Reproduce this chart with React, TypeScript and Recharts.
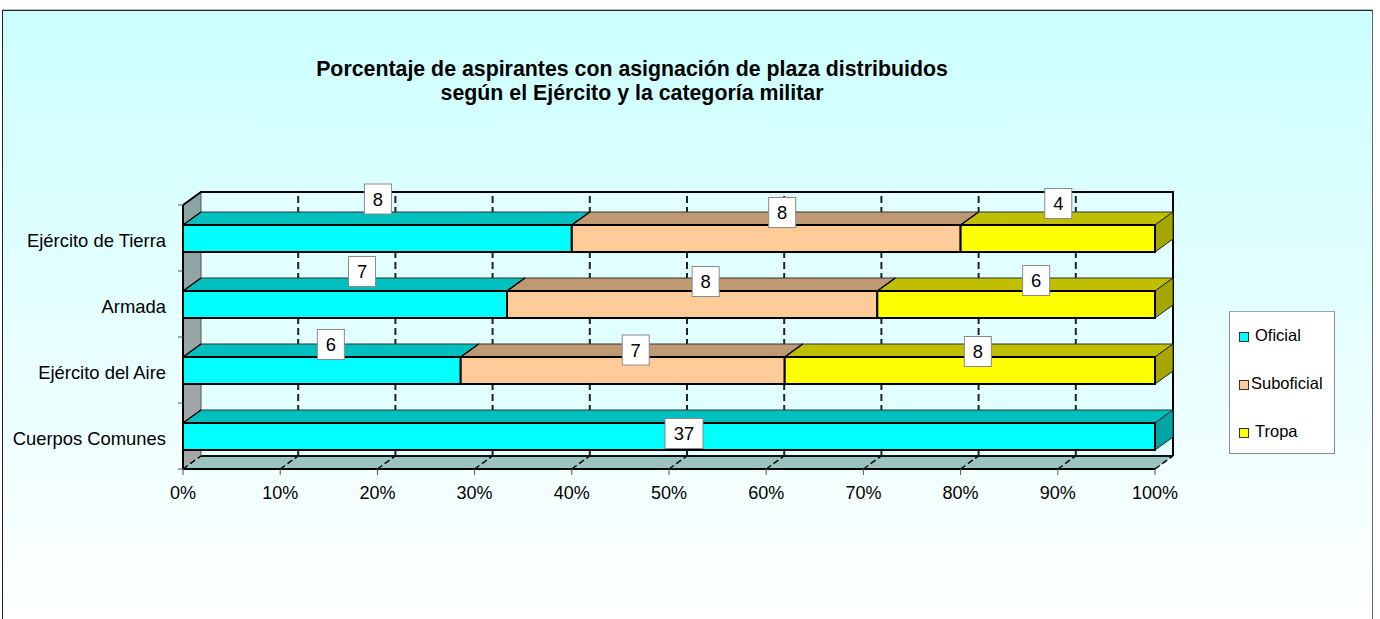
import { BarChart, Bar, XAxis, YAxis, Legend, LabelList, usePlotArea } from "recharts";

const categories = ["Ejército de Tierra", "Armada", "Ejército del Aire", "Cuerpos Comunes"];
const oficial = [8, 7, 6, 37];
const suboficial = [8, 8, 7, 0];
const tropa = [4, 6, 8, 0];
const percentTicks = [0, 0.1, 0.2, 0.3, 0.4, 0.5, 0.6, 0.7, 0.8, 0.9, 1];

const data = categories.map((name, i) => ({
  name,
  oficial: oficial[i],
  suboficial: suboficial[i],
  tropa: tropa[i],
}));

const FONT = '"Liberation Sans", Arial, sans-serif';
const DX = 18;
const DY = 13;
const PLOT_HEIGHT = 264;

// hand placed labels in the original, offset from the centre of each segment
const NUDGE_OFICIAL = [[0.5, -39.5], [17, -33], [9, -26], [15, -3]];
const NUDGE_SUBOFICIAL = [[16, -26], [13.5, -23], [13, -20.5], [0, 0]];
const NUDGE_TROPA = [[0.5, -35], [20, -24], [8, -19], [0, 0]];

const SHADES: Record<string, { top: string; side: string }> = {
  "#00FFFF": { top: "#00BFBF", side: "#00A6A6" },
  "#FFCC99": { top: "#BF9973", side: "#A68559" },
  "#FFFF00": { top: "#BFBF00", side: "#A6A600" },
};

function Walls() {
  const plot = usePlotArea();
  if (!plot) return null;
  const { x, y, width, height } = plot;
  const r = x + width;
  const b = y + height;
  return (
    <g>
      <defs>
        <linearGradient id="sideWall" x1="0" y1="0" x2="0" y2="1">
          <stop offset="0" stopColor="#8AA4A4" />
          <stop offset="1" stopColor="#A6A6A6" />
        </linearGradient>
      </defs>
      <text x={632} y={76} textAnchor="middle" fontFamily={FONT} fontWeight="bold" fontSize={21.33} fill="#000">
        Porcentaje de aspirantes con asignación de plaza distribuidos
      </text>
      <text x={632} y={100} textAnchor="middle" fontFamily={FONT} fontWeight="bold" fontSize={21.33} fill="#000">
        según el Ejército y la categoría militar
      </text>
      <rect x={x + DX} y={y - DY} width={width} height={height} fill="#E2FFFF" />
      <polygon
        points={`${x},${y} ${x + DX},${y - DY} ${x + DX},${b - DY} ${x},${b}`}
        fill="url(#sideWall)"
      />
      <polygon
        points={`${x},${b} ${x + DX},${b - DY} ${r + DX},${b - DY} ${r},${b}`}
        fill="#9BC4C0"
      />
      {percentTicks.slice(1, -1).map((t) => {
        const gx = x + width * t;
        return (
          <g key={t}>
            <line x1={gx + DX} y1={b - DY} x2={gx + DX} y2={y - DY} stroke="#222" strokeWidth={2} strokeDasharray="7 4" />
            <line x1={gx} y1={b} x2={gx + DX} y2={b - DY} stroke="#000" strokeWidth={1.5} strokeDasharray="6 3" />
          </g>
        );
      })}
      <line x1={x + DX} y1={b - DY} x2={r + DX} y2={b - DY} stroke="#111" strokeWidth={2} />
      <line x1={x + DX} y1={y - DY} x2={x + DX} y2={b - DY} stroke="#555" strokeWidth={1} />
      <line x1={x + DX - 1} y1={y - DY} x2={r + DX + 1} y2={y - DY} stroke="#000" strokeWidth={2} />
      <line x1={r + DX} y1={y - DY} x2={r + DX} y2={b - DY} stroke="#000" strokeWidth={2} />
      <line x1={x} y1={y} x2={x + DX} y2={y - DY} stroke="#000" strokeWidth={2} />
      <line x1={x} y1={y} x2={x} y2={b} stroke="#000" strokeWidth={2} />
      <line x1={x} y1={b} x2={r} y2={b} stroke="#000" strokeWidth={2} />
      <line x1={x} y1={b} x2={x + DX} y2={b - DY} stroke="#000" strokeWidth={1.5} strokeDasharray="6 3" />
      <line x1={r} y1={b} x2={r + DX} y2={b - DY} stroke="#000" strokeWidth={1.5} strokeDasharray="6 3" />
    </g>
  );
}

function PercentTick({ x, y, payload }: any) {
  return (
    <g>
      <line x1={x} y1={y} x2={x} y2={y + 6} stroke="#555" strokeWidth={1} />
      <text x={x} y={y + 30} textAnchor="middle" fontFamily={FONT} fontSize={18} fill="#000">
        {`${Math.round(payload.value * 100)}%`}
      </text>
    </g>
  );
}

function CategoryTick({ x, y, payload, index }: any) {
  const step = PLOT_HEIGHT / categories.length;
  return (
    <g>
      <line x1={x - 5} y1={y - step / 2} x2={x} y2={y - step / 2} stroke="#555" strokeWidth={1} />
      {index === categories.length - 1 && (
        <line x1={x - 5} y1={y + step / 2} x2={x} y2={y + step / 2} stroke="#555" strokeWidth={1} />
      )}
      <text x={x - 17} y={y + 8.5} textAnchor="end" fontFamily={FONT} fontSize={18.4} fill="#000">
        {payload.value}
      </text>
    </g>
  );
}

function Bar3D({ x, y, width, height, fill }: any) {
  if (!width || width <= 0) return null;
  const shade = SHADES[fill];
  const r = x + width;
  return (
    <g>
      <polygon
        points={`${x},${y} ${x + DX},${y - DY} ${r + DX},${y - DY} ${r},${y}`}
        fill={shade.top}
        stroke="#333"
        strokeWidth={1}
      />
      <polygon
        points={`${r},${y} ${r + DX},${y - DY} ${r + DX},${y + height - DY} ${r},${y + height}`}
        fill={shade.side}
        stroke="#222"
        strokeWidth={1}
      />
      <line x1={x} y1={y} x2={x + DX} y2={y - DY} stroke="#000" strokeWidth={1.5} />
      <rect x={x} y={y} width={width} height={height} fill={fill} stroke="#000" strokeWidth={2} />
    </g>
  );
}

function boxLabel(nudges: number[][]) {
  return ({ x, y, width, height, value, index }: any) => {
    if (!value) return null;
    const cx = x + width / 2 + nudges[index][0];
    const cy = y + height / 2 + nudges[index][1];
    const boxW = 27 + (String(value).length - 1) * 11;
    return (
      <g>
        <rect x={cx - boxW / 2} y={cy - 15} width={boxW} height={30} fill="#fff" stroke="#8a8a8a" strokeWidth={1} />
        <text x={cx} y={cy + 6.5} textAnchor="middle" fontFamily={FONT} fontSize={18.4} fill="#000">
          {value}
        </text>
      </g>
    );
  };
}

function LegendBox({ payload }: any) {
  return (
    <div
      style={{
        width: 106,
        height: 143,
        boxSizing: "border-box",
        background: "#fff",
        border: "1px solid #8a8a8a",
        borderTopColor: "#9aa",
        fontFamily: FONT,
        fontSize: 16.5,
        position: "relative",
      }}
    >
      {(payload || []).map((item: any, i: number) => (
        <div key={item.value}>
          <span
            style={{
              position: "absolute",
              left: 9,
              top: 19.5 + i * 48,
              width: 8,
              height: 8,
              background: item.color,
              border: "1px solid #333",
            }}
          />
          <span
            style={{
              position: "absolute",
              left: item.value === "Suboficial" ? 21 : 25,
              top: 14 + i * 48,
              lineHeight: "19px",
              color: "#000",
              whiteSpace: "nowrap",
            }}
          >
            {item.value}
          </span>
        </div>
      ))}
    </div>
  );
}

export default function App() {
  return (
    <div style={{ position: "absolute", left: 0, top: 0, width: 1380, height: 619, overflow: "hidden", background: "#fff" }}>
      <div
        style={{
          position: "absolute",
          left: 2,
          top: 10,
          width: 1371,
          height: 620,
          boxSizing: "border-box",
          background: "linear-gradient(#CCFFFF, #FFFFFF)",
          borderTop: "1px solid #2a2a2a",
          borderLeft: "1px solid #222",
          borderRight: "1px solid #666",
          boxShadow: "0 -1px 0 #bbb",
        }}
      />
      <div style={{ position: "absolute", left: 0, top: 0 }}>
        <BarChart
          width={1380}
          height={619}
          data={data}
          layout="vertical"
          stackOffset="expand"
          barSize={27}
          margin={{ top: 205, right: 225, bottom: 110, left: 0 }}
        >
          <Walls />
          <XAxis
            type="number"
            domain={[0, 1]}
            ticks={percentTicks}
            interval={0}
            height={40}
            tickLine={false}
            tickSize={0}
            tickMargin={0}
            axisLine={false}
            tick={PercentTick}
          />
          <YAxis
            type="category"
            dataKey="name"
            width={183}
            interval={0}
            tickLine={false}
            tickSize={0}
            tickMargin={0}
            axisLine={false}
            tick={CategoryTick}
          />
          <Legend
            layout="vertical"
            align="center"
            verticalAlign="middle"
            wrapperStyle={{ left: 1229, top: 311, width: 106, height: 143 }}
            content={LegendBox}
          />
          <Bar dataKey="oficial" name="Oficial" stackId="a" fill="#00FFFF" shape={Bar3D} isAnimationActive={false}>
            <LabelList dataKey="oficial" content={boxLabel(NUDGE_OFICIAL)} />
          </Bar>
          <Bar dataKey="suboficial" name="Suboficial" stackId="a" fill="#FFCC99" shape={Bar3D} isAnimationActive={false}>
            <LabelList dataKey="suboficial" content={boxLabel(NUDGE_SUBOFICIAL)} />
          </Bar>
          <Bar dataKey="tropa" name="Tropa" stackId="a" fill="#FFFF00" shape={Bar3D} isAnimationActive={false}>
            <LabelList dataKey="tropa" content={boxLabel(NUDGE_TROPA)} />
          </Bar>
        </BarChart>
      </div>
    </div>
  );
}
